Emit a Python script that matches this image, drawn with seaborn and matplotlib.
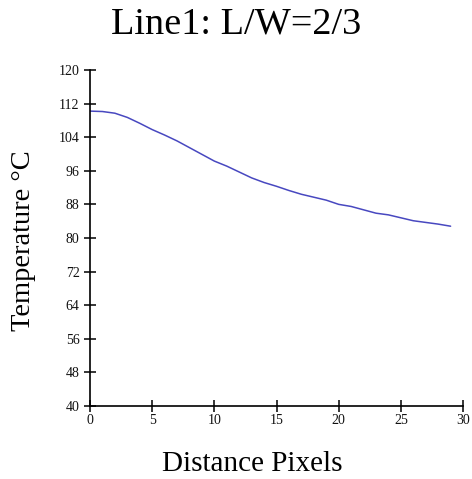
import matplotlib
matplotlib.use("Agg")
import matplotlib.pyplot as plt
import seaborn as sns
import pandas as pd
import numpy as np

distance = list(range(30))
temperature = [110.2, 110.1, 109.7, 108.7, 107.3, 105.8, 104.5, 103.1, 101.5, 99.9,
               98.3, 97.1, 95.7, 94.3, 93.2, 92.3, 91.3, 90.4, 89.7, 89.0,
               88.0, 87.5, 86.7, 85.9, 85.5, 84.8, 84.1, 83.7, 83.3, 82.8]
x_ticks = [0, 5, 10, 15, 20, 25, 30]
y_ticks = [40, 48, 56, 64, 72, 80, 88, 96, 104, 112, 120]

sns.set_theme(style="ticks")
plt.rcParams['font.family'] = ['Liberation Serif', 'DejaVu Serif']
plt.rcParams['text.color'] = 'black'

df = pd.DataFrame({"Distance": distance, "Temperature": temperature})

fig = plt.figure(figsize=(4.72, 4.79), dpi=100)
ax = fig.add_axes([0.1907, 0.1524, 0.7903, 0.7016])
sns.lineplot(data=df, x="Distance", y="Temperature", ax=ax, color="#4848c0", linewidth=1.1)

ax.set_xlim(0, 30)
ax.set_ylim(40, 120)
ax.set_xticks(x_ticks)
ax.set_yticks(y_ticks)
ax.set_xlabel("")
ax.set_ylabel("")
for s in ["top", "right"]:
    ax.spines[s].set_visible(False)
for s in ["left", "bottom"]:
    ax.spines[s].set_color("black")
    ax.spines[s].set_linewidth(1.2)
ax.tick_params(axis="both", direction="inout", length=9, width=1.1, colors="black",
               labelsize=10, labelcolor="#111111")
ax.tick_params(axis="y", pad=3)
ax.tick_params(axis="x", pad=1)

fig.text(0.5, 0.985, "Line1: L/W=2/3", ha="center", va="top", fontsize=27.5)
fig.text(0.535, 0.005, "Distance Pixels", ha="center", va="bottom", fontsize=21)
fig.text(0.05, 0.497, "Temperature °C", ha="center", va="center", rotation=90, fontsize=20.5)

fig.savefig("out.png", dpi=100)
